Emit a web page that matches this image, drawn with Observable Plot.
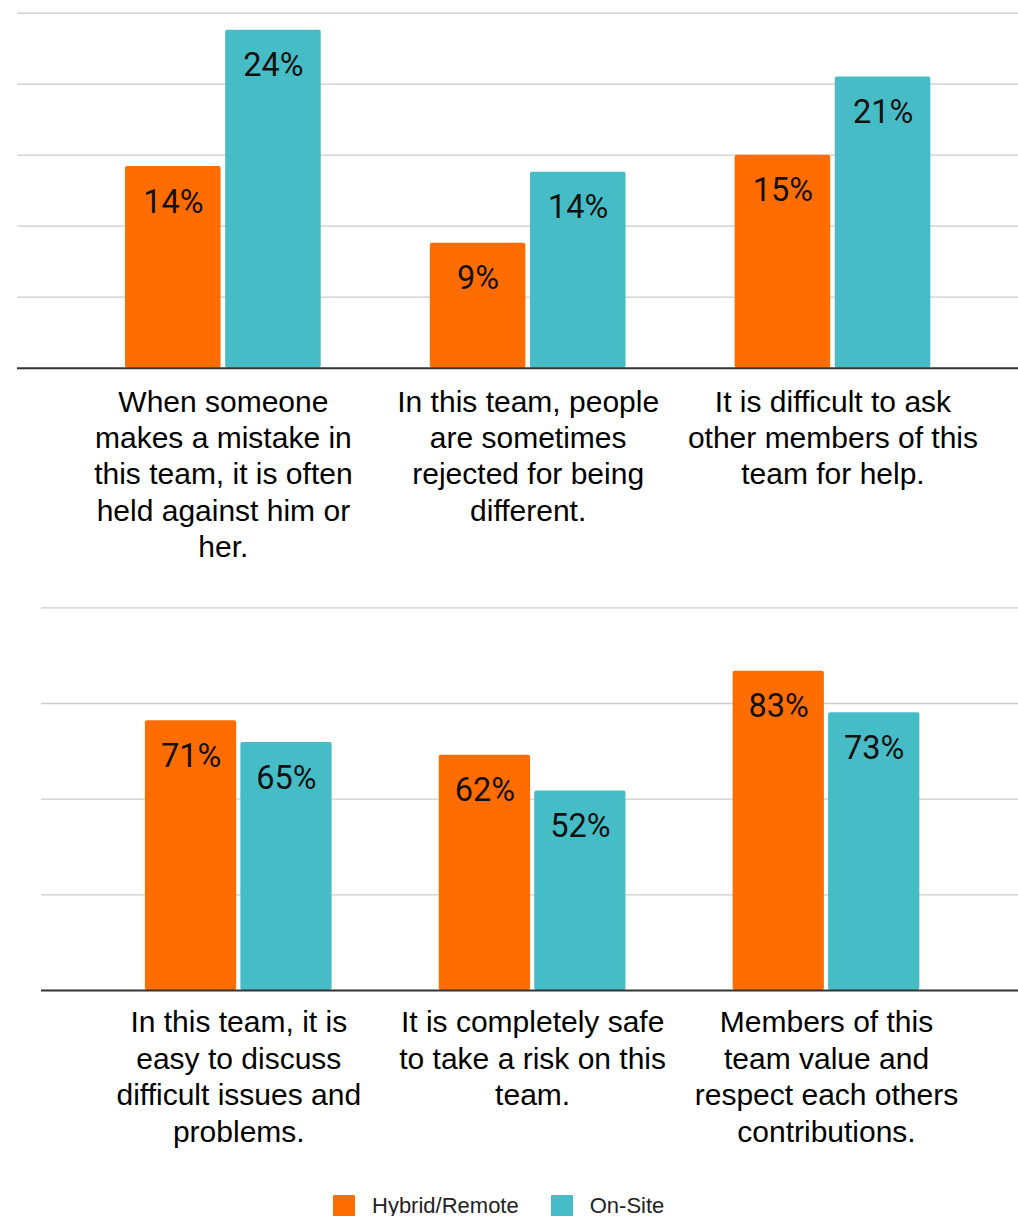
<!DOCTYPE html>
<html>
<head>
<meta charset="utf-8">
<script src="https://cdn.jsdelivr.net/npm/d3@7"></script>
<script src="https://cdn.jsdelivr.net/npm/@observablehq/plot@0.6"></script>
<style>
  html, body { margin: 0; padding: 0; background: #ffffff; }
  #charts svg { display: block; }
  #legend { display: flex; align-items: flex-start; margin-top: 15px; padding-left: 333px;
            font-family: "Liberation Sans", Arial, sans-serif; font-size: 22px; color: #222; }
  #legend .item { display: flex; align-items: flex-start; margin-right: 32px; }
  #legend .sw { width: 22px; height: 22px; border-radius: 1px; margin-right: 17px; }
  #legend .lb { line-height: 22px; white-space: nowrap; }
</style>
</head>
<body>
<div id="charts"></div>
<div id="legend"></div>
<script>
// ---- data ----
const series = ["Hybrid/Remote", "On-Site"];
const seriesColors = ["#FF6D01", "#46BDC6"];

const topCategories = [
  "When someone\nmakes a mistake in\nthis team, it is often\nheld against him or\nher.",
  "In this team, people\nare sometimes\nrejected for being\ndifferent.",
  "It is difficult to ask\nother members of this\nteam for help."
];
const topHybrid = [14.2, 8.8, 15.0];
const topOnSite = [23.8, 13.8, 20.5];
const topTicks = [0, 5, 10, 15, 20, 25];

const bottomCategories = [
  "In this team, it is\neasy to discuss\ndifficult issues and\nproblems.",
  "It is completely safe\nto take a risk on this\nteam.",
  "Members of this\nteam value and\nrespect each others\ncontributions."
];
const bottomHybrid = [70.5, 61.5, 83.4];
const bottomOnSite = [64.8, 52.1, 72.6];
const bottomTicks = [0, 25, 50, 75, 100];

// ---- chart builder ----
function makeChart(cats, hybrid, onsite, ticks, cfg) {
  const rows = cats.flatMap((c, i) => [
    {category: c, series: series[0], value: hybrid[i]},
    {category: c, series: series[1], value: onsite[i]}
  ]);
  const left = rows.filter(d => d.series === series[0]);
  const right = rows.filter(d => d.series === series[1]);
  const fmt = v => Math.round(v) + "%";
  return Plot.plot({
    width: 1018,
    height: cfg.height,
    marginLeft: cfg.marginLeft,
    marginRight: 0,
    marginTop: cfg.marginTop,
    marginBottom: cfg.marginBottom,
    style: {fontFamily: "'Liberation Sans', Arial, sans-serif", fontSize: "30px", color: "#000", background: "#fff", overflow: "visible"},
    x: {domain: cats, axis: null, paddingInner: cfg.pi, paddingOuter: cfg.po, align: cfg.align, round: false},
    y: {domain: [0, ticks[ticks.length - 1]], axis: null},
    color: {domain: series, range: seriesColors},
    marks: [
      Plot.ruleY(ticks.slice(1), {stroke: "#cccccc", strokeWidth: 1.3}),
      Plot.barY(left, {x: "category", y: "value", fill: "series", insetRight: cfg.half, rx: 2}),
      Plot.barY(right, {x: "category", y: "value", fill: "series", insetLeft: cfg.half, rx: 2}),
      Plot.ruleY([0], {stroke: "#333333", strokeWidth: 2}),
      Plot.text(left, {x: "category", y: "value", text: d => fmt(d.value), dx: -cfg.half / 2, dy: 46,
        lineAnchor: "bottom", fontFamily: "Roboto, sans-serif", fontSize: 32.5, fill: "#111"}),
      Plot.text(right, {x: "category", y: "value", text: d => fmt(d.value), dx: cfg.half / 2, dy: 46,
        lineAnchor: "bottom", fontFamily: "Roboto, sans-serif", fontSize: 32.5, fill: "#111"}),
      Plot.text(cats, {x: d => d, frameAnchor: "bottom", dy: cfg.labelDy, lineAnchor: "top",
        lineHeight: 1.215, fontSize: 30, fill: "#000", text: d => d})
    ]
  });
}

const host = document.getElementById("charts");
host.appendChild(makeChart(topCategories, topHybrid, topOnSite, topTicks, {
  height: 590, marginLeft: 17, marginTop: 12.7, marginBottom: 222.3,
  pi: 0.3579, po: 0.321, align: 0.552, half: 100.15, labelDy: 17.5
}));
host.appendChild(makeChart(bottomCategories, bottomHybrid, bottomOnSite, bottomTicks, {
  height: 590, marginLeft: 41, marginTop: 17.3, marginBottom: 190,
  pi: 0.3646, po: 0.3447, align: 0.513, half: 95.45, labelDy: 16
}));

// ---- legend ----
const legend = d3.select("#legend");
series.forEach((s, i) => {
  const item = legend.append("div").attr("class", "item");
  item.append("div").attr("class", "sw").style("background", seriesColors[i]);
  item.append("div").attr("class", "lb").text(s);
});
</script>
</body>
</html>
